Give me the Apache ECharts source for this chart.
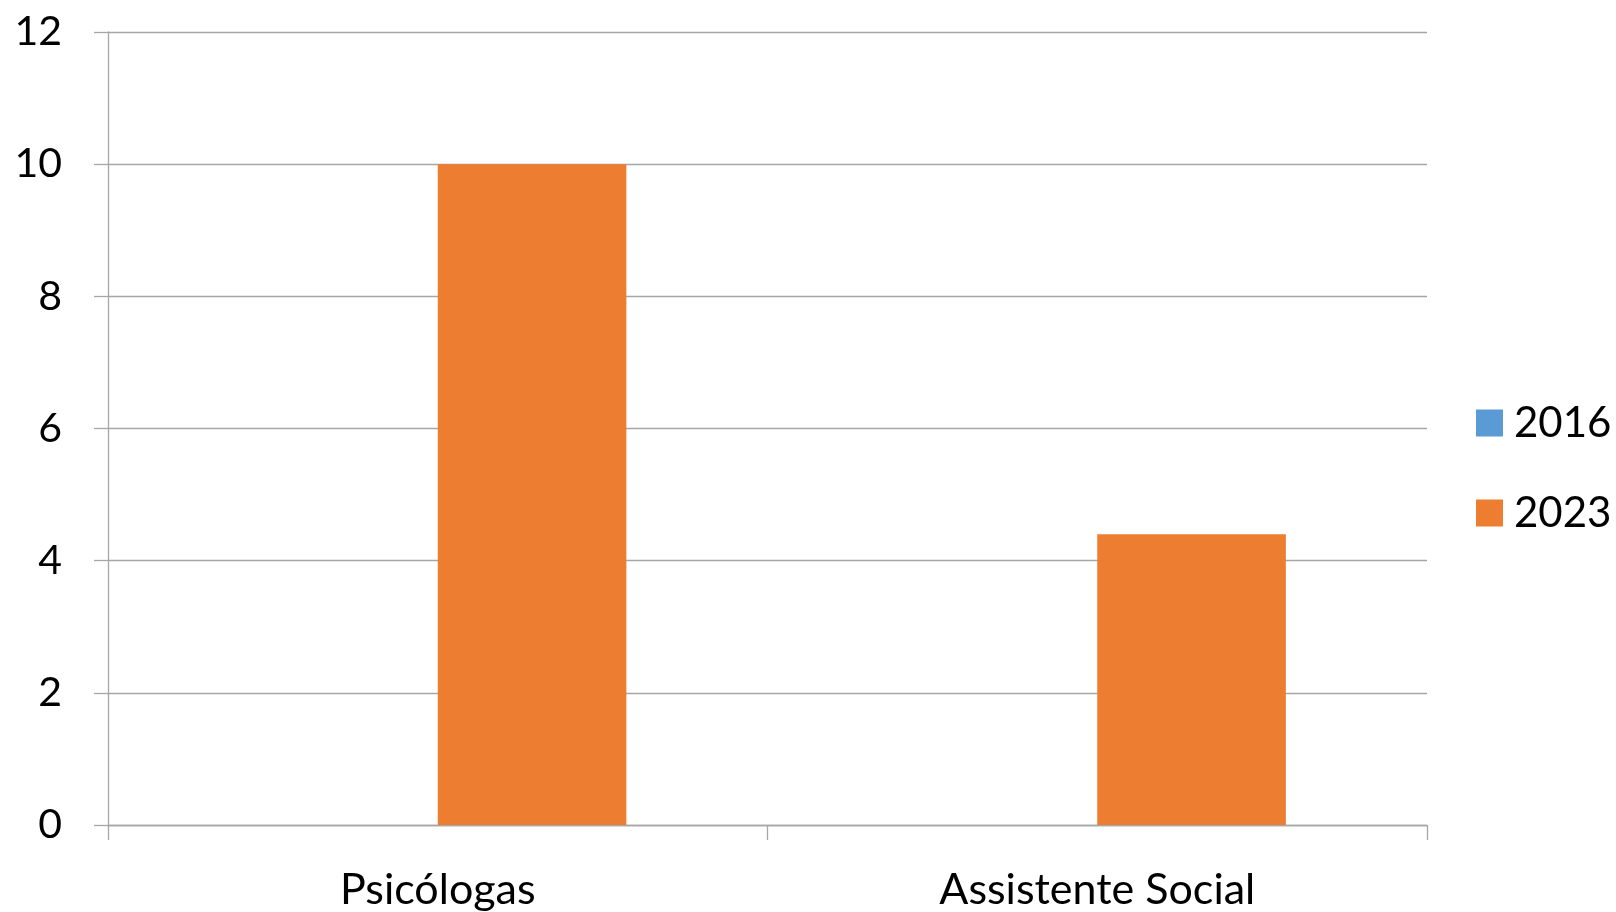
<!DOCTYPE html>
<html>
<head>
<meta charset="utf-8">
<script src="https://cdn.jsdelivr.net/npm/echarts@6/dist/echarts.min.js"></script>
<style>
html,body{margin:0;padding:0;background:#fff;}
#chart{width:1616px;height:912px;}
</style>
</head>
<body>
<div id="chart"></div>
<script>
var categories = ['Psicólogas', 'Assistente Social'];
var seriesNames = ['2016', '2023'];
var values2016 = [null, null];
var values2023 = [10, 4.4];
var yTicks = [0, 2, 4, 6, 8, 10, 12];

var FONT = 'Lato';
var chart = echarts.init(document.getElementById('chart'));
chart.setOption({
  animation: false,
  backgroundColor: '#ffffff',
  grid: { left: 108, right: 189, top: 32, bottom: 87 },
  legend: {
    orient: 'vertical',
    left: 1471,
    top: 397,
    itemWidth: 27,
    itemHeight: 27,
    itemGap: 48,
    icon: 'rect',
    textStyle: { fontFamily: FONT, fontSize: 42, color: '#000', lineHeight: 27, padding: [0,0,0,6] },
    data: seriesNames
  },
  xAxis: {
    type: 'category',
    data: categories,
    axisLine: { lineStyle: { color: '#A6A6A6', width: 1.3 } },
    axisTick: { show: true, length: 15, alignWithLabel: false, lineStyle: { color: '#A6A6A6', width: 1.3 } },
    axisLabel: { fontFamily: FONT, fontSize: 43, color: '#000', margin: 44 }
  },
  yAxis: {
    type: 'value',
    min: yTicks[0],
    max: yTicks[yTicks.length - 1],
    interval: yTicks[1] - yTicks[0],
    axisLine: { show: true, lineStyle: { color: '#A6A6A6', width: 1.3 } },
    axisTick: { show: true, length: 14, lineStyle: { color: '#A6A6A6', width: 1.3 } },
    splitLine: { lineStyle: { color: '#A6A6A6', width: 1.3 } },
    axisLabel: { fontFamily: FONT, fontSize: 41, color: '#000', margin: 46 }
  },
  series: [
    { name: seriesNames[0], type: 'bar', data: values2016, itemStyle: { color: '#5B9BD5' }, barGap: '0%', barCategoryGap: '42.8%' },
    { name: seriesNames[1], type: 'bar', data: values2023, itemStyle: { color: '#ED7D31' }, barGap: '0%', barCategoryGap: '42.8%' }
  ]
});
</script>
</body>
</html>
